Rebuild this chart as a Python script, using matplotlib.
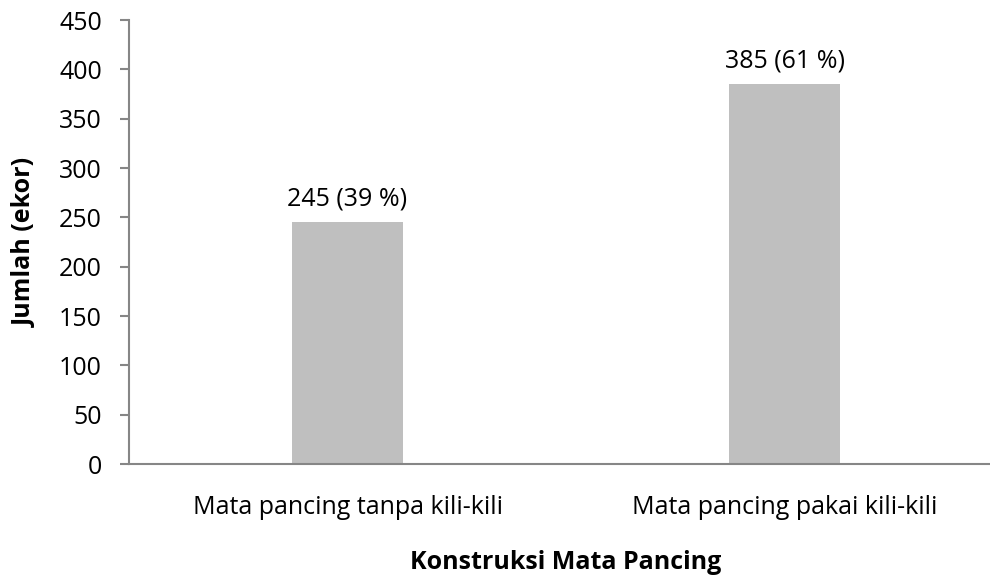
import matplotlib.pyplot as plt

plt.rcParams['font.family'] = ['Open Sans', 'DejaVu Sans']

categories = ["Mata pancing tanpa kili-kili", "Mata pancing pakai kili-kili"]
counts = [245, 385]
labels = ["245 (39 %)", "385 (61 %)"]
yticks = [0, 50, 100, 150, 200, 250, 300, 350, 400, 450]

fig = plt.figure(figsize=(9.9, 5.75), dpi=100)
ax = fig.add_axes([0.1303, 0.193, 0.883, 0.772])

x = range(len(categories))
bars = ax.bar(x, counts, width=0.254, color="#BFBFBF")
ax.bar_label(bars, labels=labels, padding=8, fontsize=18)

ax.set_xlim(-0.5, 1.5)
ax.set_ylim(0, 450)
ax.set_yticks(yticks)
ax.set_xticks(list(x))
ax.set_xticklabels(categories)

for side in ["top", "right"]:
    ax.spines[side].set_visible(False)
for side in ["left", "bottom"]:
    ax.spines[side].set_color("#868686")
    ax.spines[side].set_linewidth(1.5)

ax.tick_params(axis="y", length=6.5, width=1.5, color="#868686", labelsize=18, pad=13)
ax.tick_params(axis="x", length=0, labelsize=18, pad=22)

ax.set_ylabel("Jumlah (ekor)", fontsize=18, fontweight="bold", labelpad=15)
ax.set_xlabel("Konstruksi Mata Pancing", fontsize=18, fontweight="bold", labelpad=22)

fig.savefig("out.png", dpi=100)
